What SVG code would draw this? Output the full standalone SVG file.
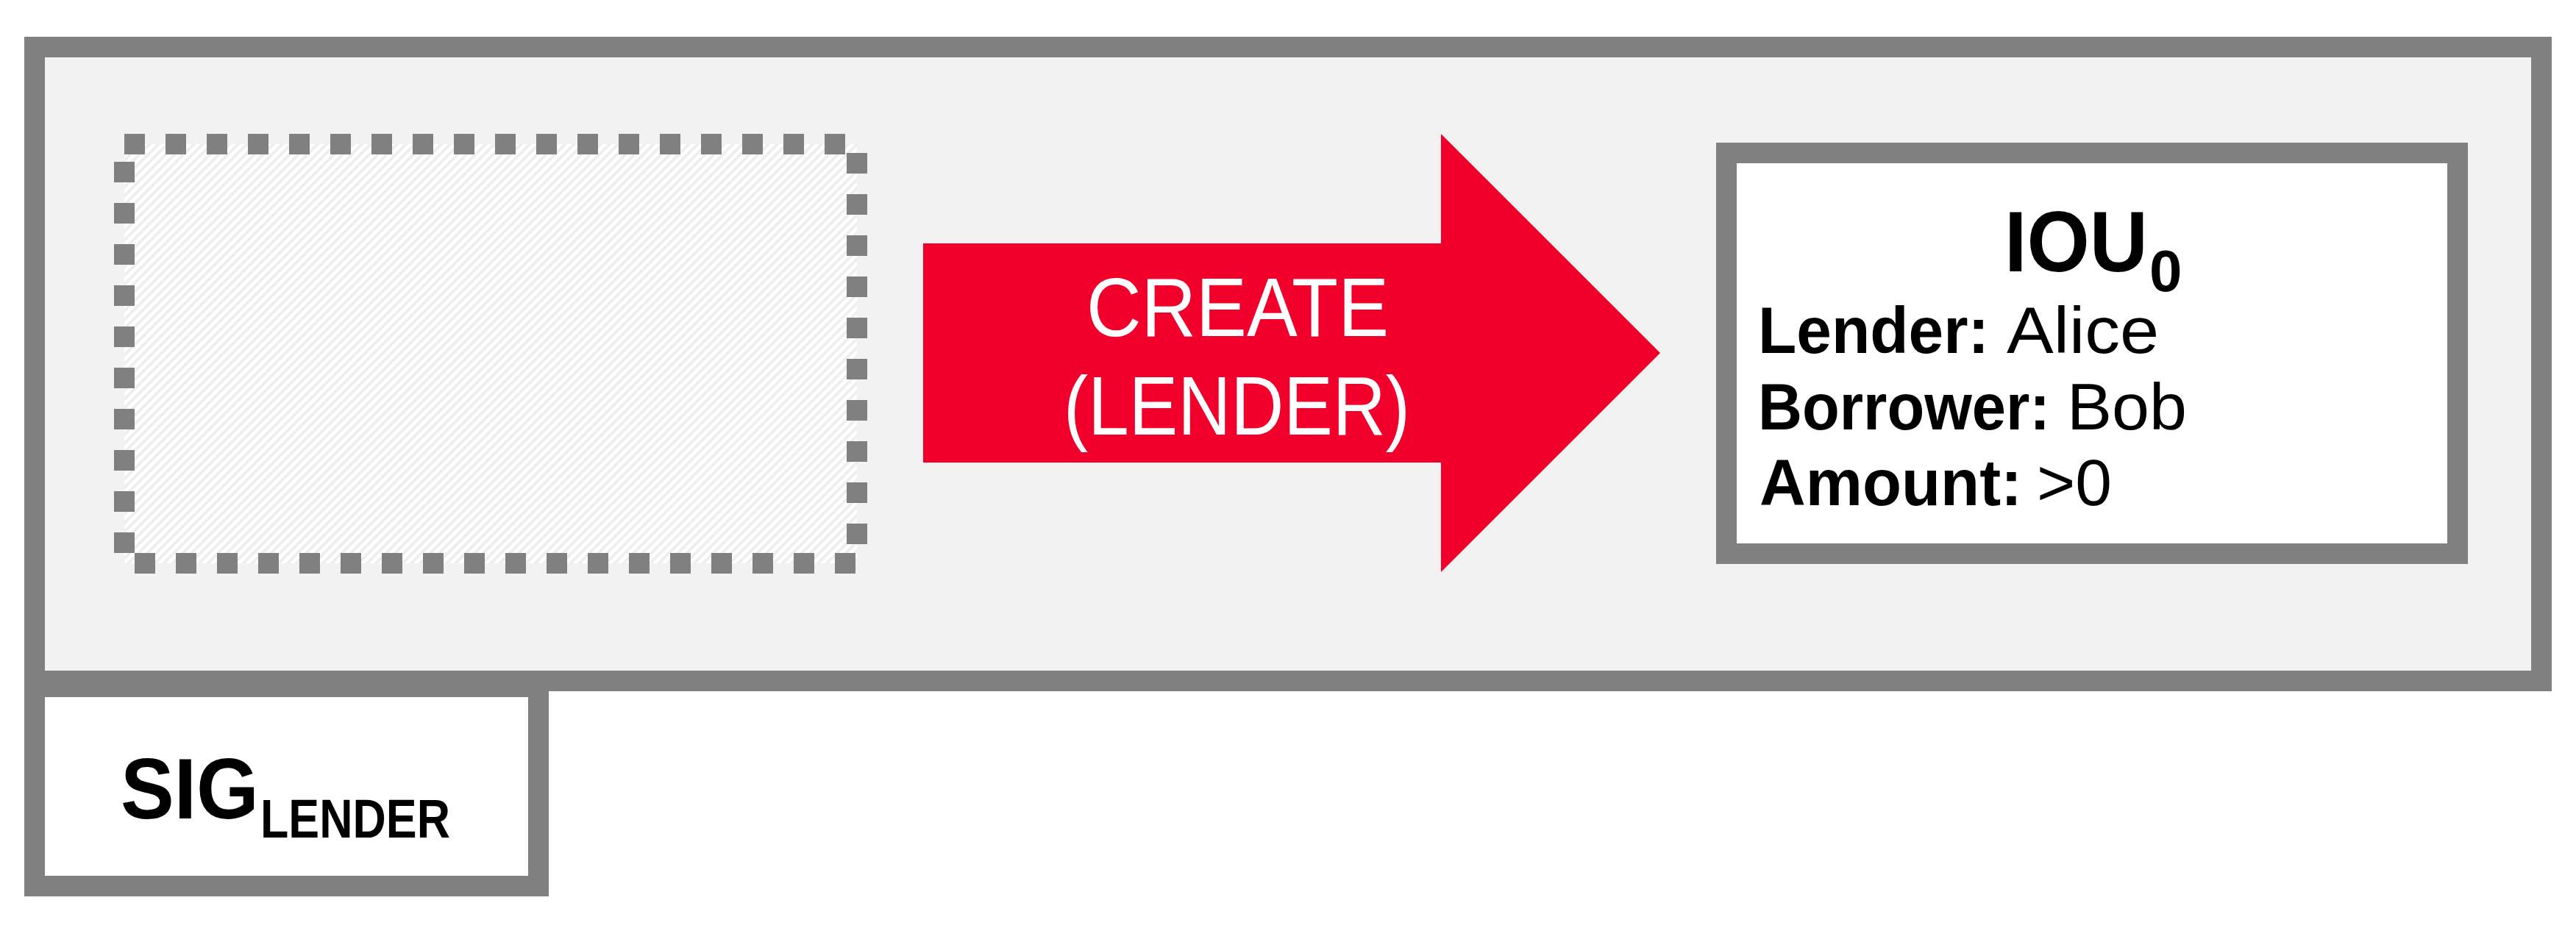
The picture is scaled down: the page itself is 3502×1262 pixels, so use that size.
<svg xmlns="http://www.w3.org/2000/svg" width="3502" height="1262" viewBox="0 0 3502 1262">
<style>
.box{stroke:#808080;stroke-width:28}
.b{font-family:"Liberation Sans",Arial,sans-serif;font-weight:bold;fill:#000}
.r{font-family:"Liberation Sans",Arial,sans-serif;font-weight:normal;fill:#000}
.w{font-family:"Liberation Sans",Arial,sans-serif;font-weight:normal;fill:#fff}
</style>
<defs>
<pattern id="hatch" patternUnits="userSpaceOnUse" width="8.5" height="8.5" patternTransform="rotate(45)">
<rect width="8.5" height="8.5" fill="#ffffff"/>
<rect width="4" height="8.5" fill="#eeeeee"/>
</pattern>
</defs>
<rect width="3502" height="1262" fill="#ffffff"/>
<g id="transaction">
<rect class="box" x="47" y="64" width="3408" height="862" fill="#f2f2f2"/>
</g>
<g id="signature">
<rect class="box" x="47" y="934" width="685" height="271" fill="#ffffff"/>
<text class="b" y="1113" font-size="116"><tspan x="164" textLength="188" lengthAdjust="spacingAndGlyphs">SIG</tspan><tspan x="354" y="1139" font-size="74" textLength="258" lengthAdjust="spacingAndGlyphs">LENDER</tspan></text>
</g>
<g id="input-empty">
<rect class="box" x="169" y="196" width="996" height="570" fill="url(#hatch)" stroke-dasharray="28 28"/>
</g>
<g id="connectors">
<polygon points="1255,331 1959,331 1959,182 2257,480 1959,778 1959,629 1255,629" fill="#f0002a"/>
<text class="w" x="1477" y="457" font-size="114" textLength="411" lengthAdjust="spacingAndGlyphs">CREATE</text>
<text class="w" x="1446" y="591" font-size="114" textLength="471" lengthAdjust="spacingAndGlyphs">(LENDER)</text>
</g>
<g id="iou-output">
<rect class="box" x="2347" y="208" width="994" height="545" fill="#ffffff"/>
<text class="b" y="369" font-size="116"><tspan x="2725" textLength="195" lengthAdjust="spacingAndGlyphs">IOU</tspan><tspan x="2922" y="396" font-size="80">0</tspan></text>
<text class="b" x="2390" y="480" font-size="89" textLength="314" lengthAdjust="spacingAndGlyphs">Lender:</text>
<text class="r" x="2728" y="480" font-size="89" textLength="207" lengthAdjust="spacingAndGlyphs">Alice</text>
<text class="b" x="2390" y="584" font-size="89" textLength="397" lengthAdjust="spacingAndGlyphs">Borrower:</text>
<text class="r" x="2810" y="584" font-size="89" textLength="163" lengthAdjust="spacingAndGlyphs">Bob</text>
<text class="b" x="2392" y="687" font-size="89" textLength="357" lengthAdjust="spacingAndGlyphs">Amount:</text>
<text class="r" x="2769" y="687" font-size="89" textLength="102" lengthAdjust="spacingAndGlyphs">&gt;0</text>
</g>
</svg>
